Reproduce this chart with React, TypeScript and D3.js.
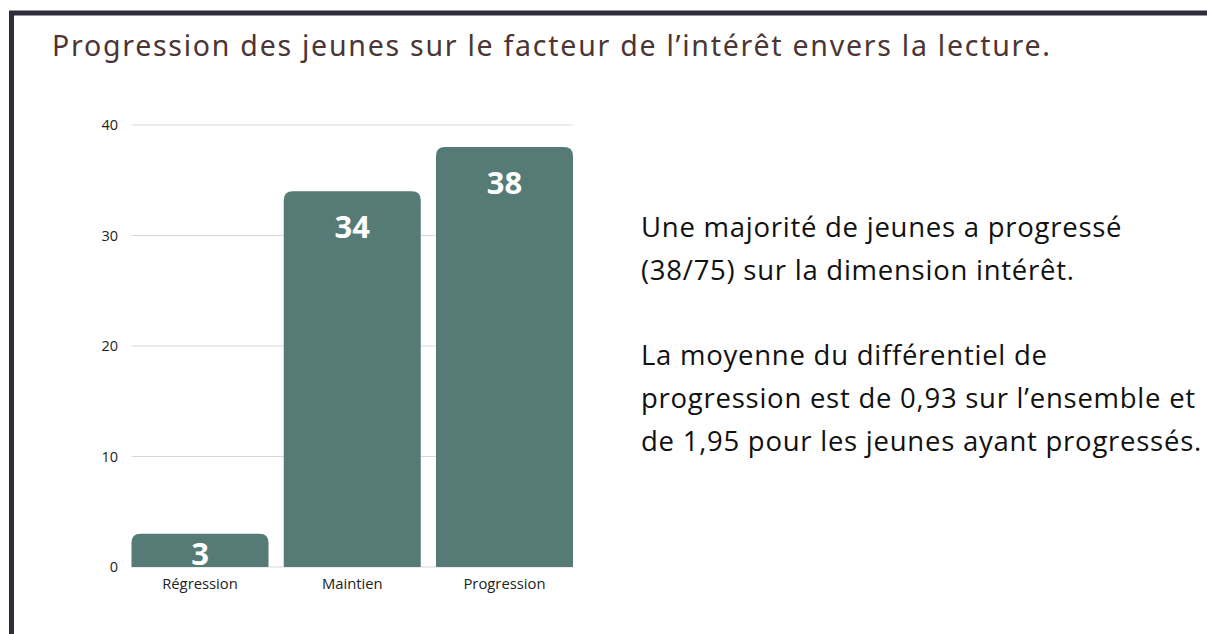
import React from 'react'
import { scaleBand, scaleLinear } from 'd3'

const categories = ['Régression', 'Maintien', 'Progression']
const values = [3, 34, 38]
const yTicks = [0, 10, 20, 30, 40]
const title = 'Progression des jeunes sur le facteur de l’intérêt envers la lecture.'
const notes = [
  'Une majorité de jeunes a progressé',
  '(38/75) sur la dimension intérêt.',
  '',
  'La moyenne du différentiel de',
  'progression est de 0,93 sur l’ensemble et',
  'de 1,95 pour les jeunes ayant progressés.',
]

const width = 1207
const height = 634
const plot = { left: 131.5, right: 573, top: 125, bottom: 567 }
const barColor = '#567b76'
const font = '"Open Sans", "Noto Sans", sans-serif'

// path with rounded top corners only
const topRounded = (x: number, y: number, w: number, h: number, r: number) => {
  const rr = Math.min(r, h, w / 2)
  return `M${x},${y + h}V${y + rr}Q${x},${y} ${x + rr},${y}H${x + w - rr}Q${x + w},${y} ${x + w},${y + rr}V${y + h}Z`
}

export default function App() {
  const xScale = scaleBand<string>()
    .domain(categories)
    .range([plot.left, plot.right])
    .paddingInner(0.1)
    .paddingOuter(0)

  const yScale = scaleLinear()
    .domain([0, 40])
    .range([plot.bottom, plot.top])

  return (
    <div style={{ position: 'fixed', left: 0, top: 0 }}>
      <svg width={width} height={height} style={{ display: 'block', background: '#fff' }}>
        <path d={`M11.5,${height + 10}V13H${width + 10}`} fill="none" stroke="#2e2d3f" strokeWidth={5} />

        <text
          x={52}
          y={56}
          fontFamily='"Noto Sans", sans-serif'
          fontSize={28.5}
          fill="#4b3535"
          textLength={998}
          lengthAdjust="spacing"
        >
          {title}
        </text>

        {yTicks.map(t => (
          <g key={t} transform={`translate(0,${yScale(t)})`}>
            <line x1={plot.left} x2={plot.right} y1={0} y2={0} stroke="#d9d9d9" strokeWidth={1.2} />
            <text x={118} dy="0.35em" textAnchor="end" fontFamily={font} fontSize={14.5} fill="#222">
              {t}
            </text>
          </g>
        ))}

        {categories.map((c, i) => {
          const x = xScale(c) as number
          const y = yScale(values[i])
          const h = yScale(0) - y
          const labelY = Math.min(y + 47, yScale(0) - 2)
          return (
            <g key={c}>
              <path d={topRounded(x, y, xScale.bandwidth(), h, 9)} fill={barColor} />
              <text
                x={x + xScale.bandwidth() / 2}
                y={labelY}
                textAnchor="middle"
                fontFamily={font}
                fontWeight={700}
                fontSize={31}
                fill="#fff"
              >
                {values[i]}
              </text>
              <text
                x={x + xScale.bandwidth() / 2}
                y={589}
                textAnchor="middle"
                fontFamily={font}
                fontSize={14.8}
                fill="#222"
              >
                {c}
              </text>
            </g>
          )
        })}

        {notes.map((line, i) => (
          <text
            key={i}
            x={641}
            y={237 + i * 42.8}
            fontFamily={font}
            fontSize={27.5}
            letterSpacing={0.75}
            fill="#111"
          >
            {line}
          </text>
        ))}
      </svg>
    </div>
  )
}
